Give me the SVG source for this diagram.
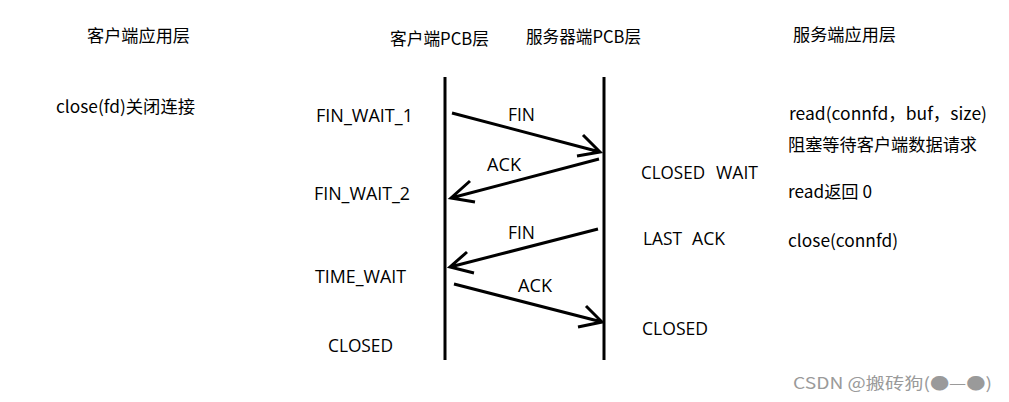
<svg xmlns="http://www.w3.org/2000/svg" width="1009" height="402" viewBox="0 0 1009 402">
<style>
.t{font-family:"Open Sans","Noto Sans CJK SC",sans-serif;font-size:18px;fill:#000}
.c{font-family:"Noto Sans CJK SC","Open Sans",sans-serif;font-size:17px;fill:#000}
.ln{stroke:#000;stroke-width:3;fill:none}
.ar{stroke:#000;stroke-width:3;fill:none;stroke-linecap:butt;stroke-linejoin:miter}
.wm{font-family:"Noto Sans CJK SC",sans-serif;font-size:16px;fill:#9a9a9a}
</style>
<rect width="1009" height="402" fill="#fff"/>
<g id="headers">
<text class="c" x="87" y="42" textLength="103" lengthAdjust="spacingAndGlyphs">客户端应用层</text>
<text class="c" x="390" y="45" textLength="99" lengthAdjust="spacingAndGlyphs">客户端PCB层</text>
<text class="c" x="526" y="43" textLength="115" lengthAdjust="spacingAndGlyphs">服务器端PCB层</text>
<text class="c" x="793" y="41" textLength="103" lengthAdjust="spacingAndGlyphs">服务端应用层</text>
</g>
<g id="client-lifeline">
<line class="ln" x1="445" y1="77" x2="445" y2="360"/>
</g>
<g id="server-lifeline">
<line class="ln" x1="604" y1="77" x2="604" y2="360"/>
</g>
<g id="client-app">
<text class="c" x="56" y="113" textLength="139" lengthAdjust="spacingAndGlyphs">close(fd)关闭连接</text>
</g>
<g id="client-states">
<text class="t" x="316" y="122" textLength="97" lengthAdjust="spacingAndGlyphs">FIN_WAIT_1</text>
<text class="t" x="314" y="200" textLength="96" lengthAdjust="spacingAndGlyphs">FIN_WAIT_2</text>
<text class="t" x="315" y="283" textLength="91" lengthAdjust="spacingAndGlyphs">TIME_WAIT</text>
<text class="t" x="328" y="352" textLength="65" lengthAdjust="spacingAndGlyphs">CLOSED</text>
</g>
<g id="server-states">
<text class="t" y="179"><tspan x="641" textLength="64" lengthAdjust="spacingAndGlyphs">CLOSED</tspan> <tspan x="716" textLength="42" lengthAdjust="spacingAndGlyphs">WAIT</tspan></text>
<text class="t" y="245"><tspan x="643" textLength="39" lengthAdjust="spacingAndGlyphs">LAST</tspan> <tspan x="692" textLength="33" lengthAdjust="spacingAndGlyphs">ACK</tspan></text>
<text class="t" x="642" y="335" textLength="66" lengthAdjust="spacingAndGlyphs">CLOSED</text>
</g>
<g id="server-app">
<text class="c" x="789" y="120" textLength="198" lengthAdjust="spacingAndGlyphs">read(connfd，buf，size)</text>
<text class="c" x="788" y="151" textLength="189" lengthAdjust="spacingAndGlyphs">阻塞等待客户端数据请求</text>
<text class="c" x="788" y="198" textLength="84" lengthAdjust="spacingAndGlyphs">read返回 0</text>
<text class="c" x="788" y="247" textLength="110" lengthAdjust="spacingAndGlyphs">close(connfd)</text>
</g>
<g id="connectors">
<path class="ar" d="M452,113 L600,152 M583,135 L600,152 L577,156"/>
<path class="ar" d="M599,159 L451,198 M470,181 L451,198 L475,202"/>
<path class="ar" d="M598,229 L450,267 M467,252 L450,267 L474,273"/>
<path class="ar" d="M454,284 L602,322 M586,306 L602,322 L578,327"/>
<text class="t" x="508" y="121" textLength="27" lengthAdjust="spacingAndGlyphs">FIN</text>
<text class="t" x="487" y="171" textLength="34" lengthAdjust="spacingAndGlyphs">ACK</text>
<text class="t" x="508" y="239" textLength="27" lengthAdjust="spacingAndGlyphs">FIN</text>
<text class="t" x="518" y="292" textLength="34" lengthAdjust="spacingAndGlyphs">ACK</text>
</g>
<g id="watermark">
<text class="wm" x="793" y="389" textLength="199" lengthAdjust="spacingAndGlyphs">CSDN @搬砖狗(●—●)</text>
</g>
</svg>
